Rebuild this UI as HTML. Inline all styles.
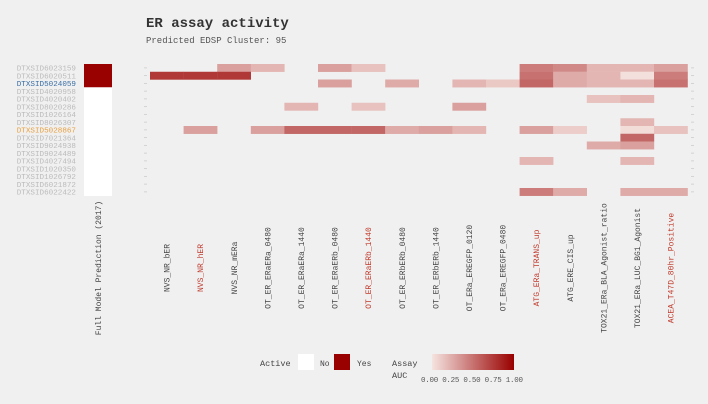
<!DOCTYPE html>
<html><head><meta charset="utf-8"><style>
body{margin:0;background:#f0f0f0;}
svg{display:block;font-family:"Liberation Mono",monospace;}
</style></head><body>
<svg id="c" width="708" height="404" xmlns="http://www.w3.org/2000/svg">
<rect width="708" height="404" fill="#f0f0f0"/>
<text x="146" y="27" font-size="14" font-weight="bold" fill="#333">ER assay activity</text>
<text x="146" y="43" font-size="9" fill="#555">Predicted EDSP Cluster: 95</text>
<g id="g"></g>
<g>
<text x="260" y="366" font-size="8.5" fill="#444">Active</text>
<rect x="298" y="354" width="16" height="16" fill="#fff"/>
<text x="320" y="366" font-size="8" fill="#444">No</text>
<rect x="334" y="354" width="16" height="16" fill="#990000"/>
<text x="357" y="366" font-size="8" fill="#444">Yes</text>
<text x="392" y="366" font-size="8.5" fill="#444">Assay</text>
<text x="392" y="378" font-size="8.5" fill="#444">AUC</text>
<defs><linearGradient id="lg"><stop offset="0" stop-color="#f5e4e0"/><stop offset="1" stop-color="#990000"/></linearGradient></defs>
<rect x="432" y="354" width="82" height="16" fill="url(#lg)"/>
<text x="421" y="382" font-size="7.5" fill="#555" textLength="102">0.00 0.25 0.50 0.75 1.00</text>
</g>
</svg>
<script>
const rowsLbl=["DTXSID6023159","DTXSID6020511","DTXSID5024059","DTXSID4020958","DTXSID4020402","DTXSID8020286","DTXSID1026164","DTXSID8026307","DTXSID5028867","DTXSID7021364","DTXSID9024938","DTXSID9024489","DTXSID4027494","DTXSID1020350","DTXSID1026792","DTXSID6021872","DTXSID6022422"];
const assays=["NVS_NR_bER","NVS_NR_hER","NVS_NR_mERa","OT_ER_ERaERa_0480","OT_ER_ERaERa_1440","OT_ER_ERaERb_0480","OT_ER_ERaERb_1440","OT_ER_ERbERb_0480","OT_ER_ERbERb_1440","OT_ERa_EREGFP_0120","OT_ERa_EREGFP_0480","ATG_ERa_TRANS_up","ATG_ERE_CIS_up","TOX21_ERa_BLA_Agonist_ratio","TOX21_ERa_LUC_BG1_Agonist","ACEA_T47D_80hr_Positive"];
const redAssays=["NVS_NR_hER","OT_ER_ERaERb_1440","ATG_ERa_TRANS_up","ACEA_T47D_80hr_Positive"];
const active=[1,1,1,0,0,0,0,0,0,0,0,0,0,0,0,0,0];
// [row, col, auc]
const cells=[[0,2,0.3],[0,3,0.2],[0,5,0.3],[0,6,0.15],[0,11,0.45],[0,12,0.4],[0,13,0.2],[0,14,0.2],[0,15,0.3],
[1,0,0.75],[1,1,0.75],[1,2,0.75],[1,11,0.5],[1,12,0.25],[1,13,0.2],[1,14,0.02],[1,15,0.45],
[2,5,0.3],[2,7,0.25],[2,9,0.2],[2,10,0.12],[2,11,0.55],[2,12,0.25],[2,13,0.2],[2,14,0.2],[2,15,0.5],
[4,13,0.15],[4,14,0.2],[5,4,0.2],[5,6,0.15],[5,9,0.3],[7,14,0.2],
[8,1,0.3],[8,3,0.3],[8,4,0.55],[8,5,0.55],[8,6,0.55],[8,7,0.25],[8,8,0.3],[8,9,0.2],[8,11,0.3],[8,12,0.1],[8,14,0.03],[8,15,0.15],
[9,14,0.55],[10,13,0.25],[10,14,0.3],[12,11,0.2],[12,14,0.2],[16,11,0.45],[16,12,0.25],[16,14,0.25],[16,15,0.25]];
const NS="http://www.w3.org/2000/svg",g=document.getElementById('g');
const x0=150,cw=33.6,y0=64,rh=7.75;
const xs=c=>x0+c*cw, ys=r=>y0+r*rh;
function col(v){const a=[245,228,224],b=[153,0,0];return `rgb(${a.map((s,i)=>Math.round(s+(b[i]-s)*v)).join(',')})`;}
function mk(t,at){const e=document.createElementNS(NS,t);for(const k in at)e.setAttribute(k,at[k]);g.appendChild(e);return e;}
rowsLbl.forEach((l,r)=>{
 const t=mk('text',{x:76,y:ys(r)+rh-1.2,'font-size':7.6,'text-anchor':'end',fill:r==2?'#3a6ea5':r==8?'#e8a040':'#bbb'});
 
 
 t.textContent=l;
 const m=mk('rect',{x:84,y:ys(r),width:28,height:rh+0.3,fill:active[r]?'#990000':'#fff'});
 
 
 mk('line',{x1:144,x2:147,y1:ys(r)+rh/2,y2:ys(r)+rh/2,stroke:'#ccc','stroke-width':0.8});
 mk('line',{x1:691,x2:694,y1:ys(r)+rh/2,y2:ys(r)+rh/2,stroke:'#ccc','stroke-width':0.8});
});
cells.forEach(([r,c,v])=>{
 const e=mk('rect',{x:xs(c),y:ys(r),width:cw+0.2,height:rh+0.2,fill:col(v)});
 
 
});
function vlabel(txt,cx,color,name){
 const t=mk('text',{transform:`translate(${cx+2.8},268) rotate(-90)`,'font-size':8,'text-anchor':'middle',fill:color});
 
 
 t.textContent=txt;
}
vlabel("Full Model Prediction (2017)",98,'#444','model-column-label');
assays.forEach((a,c)=>vlabel(a,xs(c)+cw/2,redAssays.includes(a)?'#c0392b':'#444','assay-label'));
</script>
</body></html>
